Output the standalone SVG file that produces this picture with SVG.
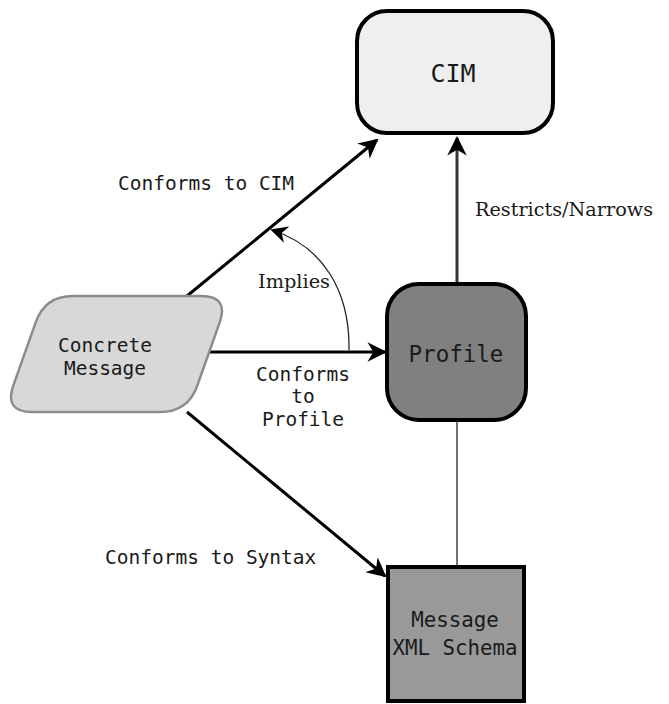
<svg xmlns="http://www.w3.org/2000/svg" width="669" height="704" viewBox="0 0 669 704">
<style>
.mono{font-family:"DejaVu Sans Mono","Liberation Mono",monospace;fill:#1a1a1a;text-anchor:middle}
.serif{font-family:"DejaVu Serif","Liberation Serif",serif;fill:#1a1a1a;font-size:18px}
.lbl{font-family:"DejaVu Sans Mono","Liberation Mono",monospace;fill:#1a1a1a;font-size:19.5px}
.conn{stroke:#000;stroke-width:3;fill:none}
</style>
<defs>
<marker id="ah" viewBox="0 0 10 10" refX="9" refY="5" markerWidth="6.5" markerHeight="6.5" markerUnits="strokeWidth" orient="auto">
<path d="M0,0 L10,5 L0,10 L3,5 Z" fill="#000"/>
</marker>
<marker id="ah2" viewBox="0 0 10 10" refX="9" refY="5" markerWidth="13" markerHeight="13" markerUnits="strokeWidth" orient="auto">
<path d="M0,0 L10,5 L0,10 L3,5 Z" fill="#000"/>
</marker>
</defs>
<g id="connectors">
<line class="conn" x1="187" y1="296" x2="377" y2="140" marker-end="url(#ah)"/>
<line class="conn" x1="208" y1="352" x2="385" y2="352" marker-end="url(#ah)"/>
<line class="conn" x1="187" y1="412" x2="385" y2="576" marker-end="url(#ah)"/>
<line x1="457" y1="283" x2="457" y2="138" stroke="#333" stroke-width="3" marker-end="url(#ah)"/>
<line x1="457" y1="420" x2="457" y2="565" stroke="#444" stroke-width="1.5"/>
<path d="M349,350 C350,290 322,246 272,230" stroke="#222" stroke-width="1.3" fill="none" marker-end="url(#ah2)"/>
<text class="lbl" x="118" y="190">Conforms to CIM</text>
<text class="serif" x="475" y="216" textLength="178" lengthAdjust="spacingAndGlyphs">Restricts/Narrows</text>
<text class="serif" x="258" y="288" textLength="72" lengthAdjust="spacingAndGlyphs">Implies</text>
<text class="lbl" x="303" y="381" text-anchor="middle">Conforms</text>
<text class="lbl" x="303" y="403" text-anchor="middle">to</text>
<text class="lbl" x="303" y="426" text-anchor="middle">Profile</text>
<text class="lbl" x="105" y="564">Conforms to Syntax</text>
</g>
<g id="cim">
<rect x="357" y="11" width="196" height="122" rx="30" fill="#efefef" stroke="#000" stroke-width="4"/>
<text class="mono" x="453" y="82" font-size="25">CIM</text>
</g>
<g id="profile">
<rect x="387" y="284" width="139" height="136" rx="32" fill="#808080" stroke="#000" stroke-width="4"/>
<text class="mono" x="456" y="362" font-size="22.5">Profile</text>
</g>
<g id="concrete">
<path d="M73,296 L201,296 Q229,296 219.7,322.4 L197.3,385.6 Q188,412 160,412 L32,412 Q4,412 13.3,385.6 L35.7,322.4 Q45,296 73,296 Z" fill="#d8d8d8" stroke="#8c8c8c" stroke-width="2.5"/>
<text class="mono" x="105" y="352" font-size="19.5">Concrete</text>
<text class="mono" x="105" y="375" font-size="19.5">Message</text>
</g>
<g id="schema">
<rect x="388" y="567" width="136" height="134" fill="#999999" stroke="#000" stroke-width="4"/>
<text class="mono" x="455" y="627" font-size="20.8">Message</text>
<text class="mono" x="455" y="655" font-size="20.8">XML Schema</text>
</g>
</svg>
